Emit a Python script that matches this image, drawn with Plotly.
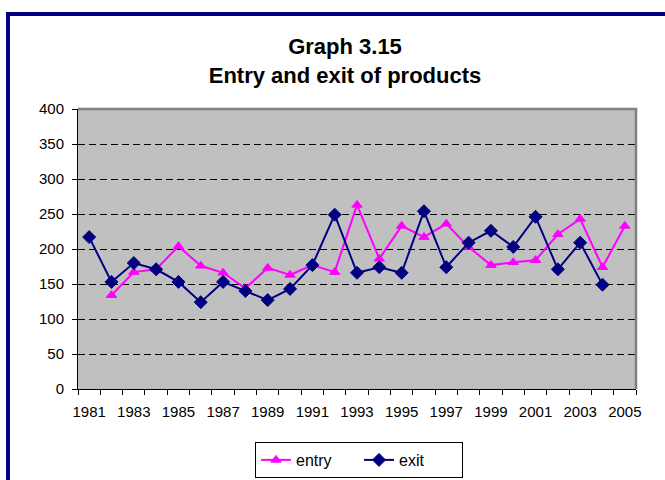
import plotly.graph_objects as go

years = list(range(1981, 2006))
entry = [None, 134, 167, 171, 204, 176, 166, 144, 173, 163, 177, 167, 263, 186, 233,
         217, 236, 203, 177, 181, 184, 221, 243, 174, 233]
exit_ = [217, 153, 180, 171, 153, 124, 153, 140, 127, 143, 177, 249, 166, 174, 166,
         254, 174, 209, 226, 203, 246, 171, 209, 149, None]
xtick_labels = [str(y) for y in range(1981, 2006, 2)]

FONT = "Liberation Sans, Arial, sans-serif"
W, H = 665, 480
L, R, T, B = 78, 29, 109, 91
PW, PH = W - L - R, H - T - B


def px_x(p):
    return (p - L) / PW


def px_y(p):
    return (H - B - p) / PH


fig = go.Figure()
fig.add_trace(go.Scatter(
    x=years, y=entry, name="entry", mode="lines+markers",
    line=dict(color="#FF00FF", width=2),
    marker=dict(symbol="triangle-up", size=9, color="#FF00FF",
                line=dict(color="#FF00FF", width=1)),
))
fig.add_trace(go.Scatter(
    x=years, y=exit_, name="exit", mode="lines+markers",
    line=dict(color="#000080", width=2),
    marker=dict(symbol="diamond", size=10, color="#000080",
                line=dict(color="#000080", width=1)),
))

fig.update_layout(
    width=W, height=H,
    margin=dict(l=L, r=R, t=T, b=B, autoexpand=False),
    paper_bgcolor="white",
    plot_bgcolor="#C0C0C0",
    font=dict(family=FONT, size=15, color="black"),
    title=dict(
        text="<b>Graph 3.15</b><br><b>Entry and exit of products</b>",
        x=345 / W, xref="container", xanchor="center",
        y=1 - 54 / H, yref="container", yanchor="middle",
        font=dict(family=FONT, size=22, color="black"),
    ),
    showlegend=True,
    legend=dict(
        orientation="h",
        x=255 / W, xref="container", xanchor="left",
        y=1 - 442 / H, yref="container", yanchor="top",
        bordercolor="black", borderwidth=1, bgcolor="white",
        font=dict(family=FONT, size=16, color="black"),
        entrywidth=58, entrywidthmode="pixels",
    ),
    xaxis=dict(
        range=[1980.5, 2005.5],
        tickmode="array",
        tickvals=list(range(1981, 2006, 2)),
        ticktext=xtick_labels,
        ticks="",
        showgrid=False, zeroline=False,
        showline=True, linecolor="black", linewidth=1,
        minor=dict(
            tickmode="array",
            tickvals=[y + 0.5 for y in range(1980, 2006)],
            ticks="outside", ticklen=5, tickcolor="black", tickwidth=1,
            showgrid=False,
        ),
        tickfont=dict(family=FONT, size=15, color="black"),
        ticklabelstandoff=9,
        fixedrange=True,
    ),
    yaxis=dict(
        range=[0, 400], dtick=50, tick0=0,
        ticks="outside", ticklen=5, tickcolor="black",
        showgrid=True, gridcolor="black", gridwidth=1, griddash="7px,4px",
        zeroline=False,
        showline=True, linecolor="black", linewidth=1,
        tickfont=dict(family=FONT, size=15, color="black"),
        ticklabelstandoff=5,
        fixedrange=True,
    ),
    shapes=[
        dict(type="path", xref="paper", yref="paper",
             path="M0,1 L1,1 L1,0", line=dict(color="#808080", width=2.5),
             layer="above"),
        dict(type="rect", xref="paper", yref="paper",
             x0=px_x(8), x1=px_x(720), y0=px_y(14), y1=px_y(560),
             line=dict(color="#000080", width=4), fillcolor="rgba(0,0,0,0)",
             layer="above"),
    ],
)

fig.write_html("out.html", config={"displayModeBar": False},
               post_script="document.body.style.margin='0';")
